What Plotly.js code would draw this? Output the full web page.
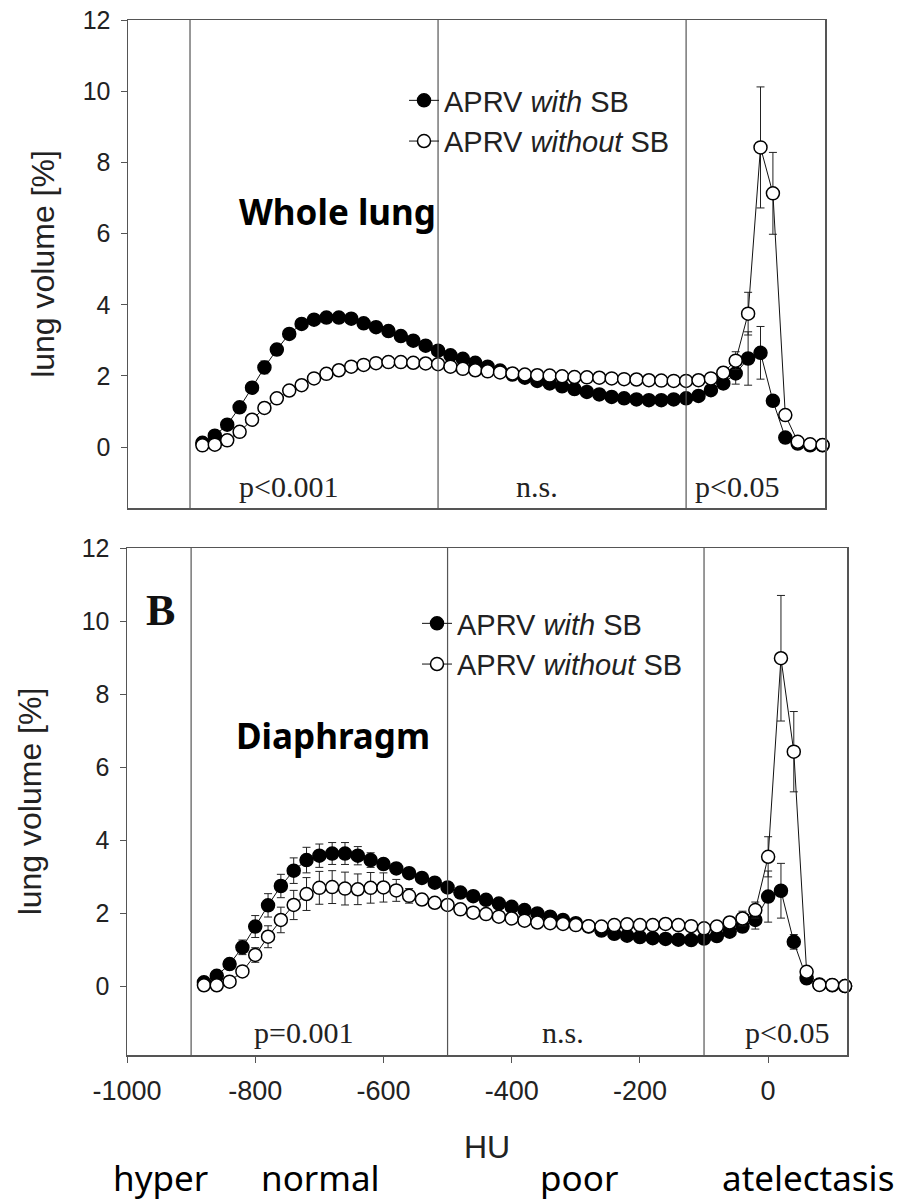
<!DOCTYPE html>
<html><head><meta charset="utf-8">
<script src="https://cdn.plot.ly/plotly-3.0.1.min.js"></script>
<style>html,body{margin:0;padding:0;background:#fff}#chart{width:920px;height:1200px}</style>
</head><body><div id="chart"></div>
<script>
// HU bin centres
const huBins = [-880,-860,-840,-820,-800,-780,-760,-740,-720,-700,
  -680,-660,-640,-620,-600,-580,-560,-540,-520,-500,
  -480,-460,-440,-420,-400,-380,-360,-340,-320,-300,
  -280,-260,-240,-220,-200,-180,-160,-140,-120,-100,
  -80,-60,-40,-20,0,20,40,60,80,100,120];

// Whole lung
const wholeWithSB = [0.12,0.32,0.63,1.12,1.67,2.24,2.74,3.18,3.46,3.58,
  3.64,3.64,3.61,3.48,3.37,3.26,3.12,2.99,2.85,2.71,
  2.58,2.48,2.37,2.26,2.15,2.04,1.95,1.86,1.79,1.71,
  1.63,1.55,1.48,1.41,1.37,1.34,1.32,1.32,1.34,1.37,
  1.44,1.60,1.79,2.07,2.49,2.65,1.30,0.27,0.10,0.05,0.05];
const wholeWithSBErr = [0.05,0.06,0.08,0.10,0.15,0.18,0.15,0.12,0.10,0.10,
  0.10,0.10,0.08,0.08,0.07,0.07,0.06,0.06,0.06,0.06,
  0.06,0.06,0.06,0.06,0.06,0.06,0.06,0.06,0.06,0.06,
  0.06,0.06,0.06,0.06,0.06,0.06,0.06,0.06,0.06,0.06,
  0.08,0.10,0.15,0.30,0.75,0.74,0.15,0.08,0.04,0.03,0.03];
const wholeWithoutSB = [0.05,0.07,0.19,0.43,0.77,1.10,1.37,1.59,1.74,1.93,
  2.06,2.16,2.26,2.31,2.36,2.39,2.39,2.37,2.35,2.33,
  2.26,2.20,2.16,2.13,2.10,2.07,2.04,2.02,2.01,1.99,
  1.97,1.96,1.95,1.93,1.91,1.90,1.88,1.87,1.86,1.86,
  1.88,1.93,2.09,2.43,3.75,8.42,7.13,0.90,0.15,0.08,0.06];
const wholeWithoutSBErr = [0.03,0.04,0.05,0.07,0.08,0.10,0.10,0.10,0.10,0.10,
  0.10,0.10,0.10,0.10,0.10,0.10,0.10,0.08,0.08,0.08,
  0.06,0.06,0.06,0.06,0.06,0.06,0.06,0.06,0.06,0.06,
  0.06,0.06,0.06,0.06,0.06,0.06,0.06,0.06,0.06,0.06,
  0.06,0.08,0.15,0.25,0.60,1.70,1.15,0.15,0.06,0.04,0.03];

// Diaphragm
const diaWithSB = [0.10,0.28,0.60,1.06,1.63,2.21,2.74,3.16,3.45,3.57,
  3.63,3.63,3.57,3.45,3.34,3.22,3.09,2.96,2.83,2.70,
  2.56,2.46,2.36,2.26,2.17,2.08,1.99,1.90,1.81,1.72,
  1.63,1.52,1.43,1.38,1.34,1.31,1.29,1.27,1.26,1.30,
  1.37,1.49,1.63,1.81,2.45,2.61,1.21,0.21,0.04,0.02,0.00];
const diaWithSBErr = [0.05,0.08,0.12,0.20,0.30,0.32,0.32,0.35,0.35,0.32,
  0.30,0.30,0.25,0.20,0.15,0.12,0.10,0.10,0.08,0.08,
  0.06,0.06,0.06,0.06,0.06,0.06,0.06,0.06,0.06,0.06,
  0.06,0.06,0.06,0.06,0.06,0.06,0.06,0.06,0.08,0.08,
  0.10,0.12,0.15,0.25,0.70,0.75,0.20,0.08,0.03,0.03,0.02];
const diaWithoutSB = [0.02,0.02,0.12,0.40,0.85,1.35,1.81,2.22,2.52,2.69,
  2.71,2.67,2.65,2.69,2.70,2.62,2.47,2.37,2.28,2.22,
  2.10,2.01,1.97,1.90,1.85,1.79,1.74,1.72,1.70,1.67,
  1.64,1.63,1.67,1.69,1.67,1.67,1.70,1.67,1.64,1.58,
  1.63,1.74,1.85,2.08,3.54,8.98,6.42,0.39,0.03,0.03,0.00];
const diaWithoutSBErr = [0.03,0.04,0.06,0.12,0.20,0.30,0.35,0.40,0.45,0.45,
  0.45,0.45,0.42,0.42,0.40,0.30,0.20,0.15,0.12,0.10,
  0.08,0.08,0.08,0.08,0.08,0.08,0.08,0.08,0.08,0.08,
  0.08,0.08,0.08,0.08,0.08,0.08,0.10,0.10,0.10,0.10,
  0.12,0.15,0.20,0.22,0.55,1.72,1.10,0.12,0.04,0.03,0.02];

const seriesNames = ['APRV <i>with</i> SB', 'APRV <i>without</i> SB'];
const regionBounds = [-900, -500, -100];
const yTickVals = [0, 2, 4, 6, 8, 10, 12];
const xTickVals = [-1000, -800, -600, -400, -200, 0];
const xTickText = ['-1000', '-800', '-600', '-400', '-200', '0'];
const panelNames = ['Whole lung', 'Diaphragm'];
const pLabelsTop = ['p&lt;0.001', 'n.s.', 'p&lt;0.05'];
const pLabelsBottom = ['p=0.001', 'n.s.', 'p&lt;0.05'];
const densityLabels = ['hyper', 'normal', 'poor', 'atelectasis'];

const SANS = 'Liberation Sans, Arial, sans-serif';
const SERIF = 'Liberation Serif, Times New Roman, serif';
const KSANS = 'Noto Sans, Open Sans, sans-serif';
const W = 920, H = 1200;
const px = v => v / W;
const py = v => 1 - v / H;

function series(y, err, name, filled, xa, ya, legendId) {
  return {
    type: 'scatter', mode: 'lines+markers', x: huBins, y: y, name: name,
    xaxis: xa, yaxis: ya, legend: legendId, cliponaxis: false,
    line: {color: '#111', width: 1},
    marker: {size: 13, symbol: 'circle', color: filled ? '#000' : '#fff',
             line: {color: '#000', width: 1.5}},
    error_y: {type: 'data', array: err, visible: true, color: '#222', thickness: 1, width: 4}
  };
}

const data = [
  series(wholeWithSB, wholeWithSBErr, seriesNames[0], true, 'x', 'y', 'legend'),
  series(wholeWithoutSB, wholeWithoutSBErr, seriesNames[1], false, 'x', 'y', 'legend'),
  series(diaWithSB, diaWithSBErr, seriesNames[0], true, 'x2', 'y2', 'legend2'),
  series(diaWithoutSB, diaWithoutSBErr, seriesNames[1], false, 'x2', 'y2', 'legend2')
];

const axisLine = {showline: true, linecolor: '#555', linewidth: 1.5, mirror: true,
  showgrid: false, zeroline: false};

const shapes = [];
regionBounds.forEach(b => {
  shapes.push({type: 'line', xref: 'x', yref: 'y domain', x0: b, x1: b, y0: 0, y1: 1,
               line: {color: '#555', width: 1.2}});
  shapes.push({type: 'line', xref: 'x2', yref: 'y2 domain', x0: b, x1: b, y0: 0, y1: 1,
               line: {color: '#555', width: 1.2}});
});

const ann = [];
function txt(t, x, y, font, extra) {
  ann.push(Object.assign({text: t, xref: 'paper', yref: 'paper', x: px(x), y: py(y),
    xanchor: 'center', yanchor: 'middle', showarrow: false, font: font}, extra || {}));
}
txt('<b>' + panelNames[0] + '</b>', 337, 212, {family: KSANS, size: 35, color: '#000'});
txt('<b>' + panelNames[1] + '</b>', 333, 735, {family: KSANS, size: 35, color: '#000'});
txt('<b>B</b>', 160, 610, {family: SERIF, size: 44, color: '#111'});
const pFont = {family: SERIF, size: 30, color: '#222'};
[288, 537, 737].forEach((x, i) => txt(pLabelsTop[i], x, 487, pFont));
[303, 563, 787].forEach((x, i) => txt(pLabelsBottom[i], x, 1032, pFont));
const dFont = {family: KSANS, size: 35, color: '#000'};
[160, 320, 579, 808].forEach((x, i) => txt(densityLabels[i], x, 1177, dFont));

const layout = {
  width: W, height: H,
  margin: {l: 0, r: 0, t: 0, b: 0},
  paper_bgcolor: '#fff', plot_bgcolor: '#fff',
  showlegend: true,
  xaxis: Object.assign({}, axisLine, {domain: [px(128), px(825)], range: [-1000, 124],
    showticklabels: false, ticks: ''}),
  yaxis: Object.assign({}, axisLine, {domain: [py(508), py(20)], range: [-1.71, 12],
    tickvals: yTickVals, ticks: 'outside', ticklen: 6, tickcolor: '#555', ticklabelstandoff: 5,
    tickfont: {family: SANS, size: 25, color: '#222'},
    title: {text: 'lung volume [%]', font: {family: SANS, size: 32, color: '#222'}, standoff: 18}}),
  xaxis2: Object.assign({}, axisLine, {anchor: 'y2', domain: [px(127), px(847)], range: [-1000, 123],
    tickvals: xTickVals, ticktext: xTickText, ticks: 'outside', ticklen: 6, tickcolor: '#555',
    ticklabelstandoff: 5,
    tickfont: {family: SANS, size: 27, color: '#222'},
    title: {text: 'HU', font: {family: SANS, size: 32, color: '#222'}, standoff: 30}}),
  yaxis2: Object.assign({}, axisLine, {anchor: 'x2', domain: [py(1055), py(548)], range: [-1.89, 12],
    tickvals: yTickVals, ticks: 'outside', ticklen: 6, tickcolor: '#555', ticklabelstandoff: 5,
    tickfont: {family: SANS, size: 25, color: '#222'},
    title: {text: 'lung volume [%]', font: {family: SANS, size: 32, color: '#222'}, standoff: 30}}),
  legend: {x: px(404), y: py(75), xanchor: 'left', yanchor: 'top', bgcolor: 'rgba(0,0,0,0)',
    font: {family: SANS, size: 29, color: '#222'}, tracegroupgap: 0},
  legend2: {x: px(417), y: py(598), xanchor: 'left', yanchor: 'top', bgcolor: 'rgba(0,0,0,0)',
    font: {family: SANS, size: 29, color: '#222'}, tracegroupgap: 0},
  shapes: shapes,
  annotations: ann
};

Plotly.newPlot('chart', data, layout, {staticPlot: true, displayModeBar: false});
</script></body></html>
